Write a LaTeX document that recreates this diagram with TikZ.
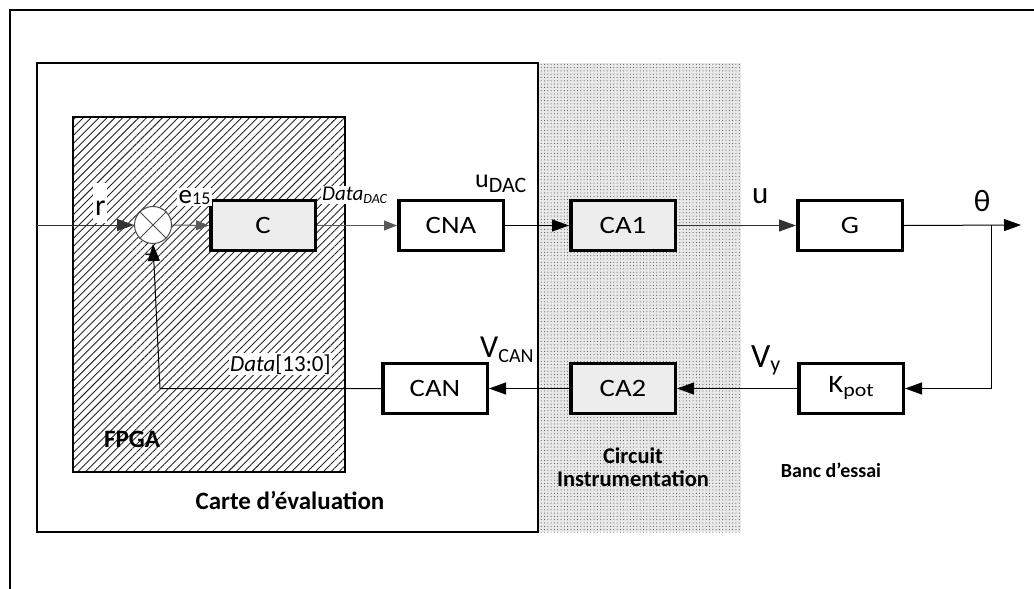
\documentclass[tikz,border=0pt]{standalone}
\usepackage{fontspec}
\setmainfont{Carlito}
\newfontfamily\boxfont{Carlito}[FakeStretch=1.15]
\usetikzlibrary{arrows.meta,patterns.meta}
\newcommand\fsz[1]{\fontsize{#1}{#1}\selectfont}
\newcommand\lowr[3]{\raisebox{-#1}{\fsz{#2}#3}}
\begin{document}
\begin{tikzpicture}[x=1pt,y=-1pt,
  blk/.style={draw=black,line width=3.5pt,minimum width=104.5pt,minimum height=50pt,inner sep=0pt,font=\boxfont\fsz{25}},
  gblk/.style={blk,fill=black!7},
  wblk/.style={blk,fill=white},
  sig/.style={line width=1pt,-{Triangle[length=17pt,width=12pt]}},
  sigg/.style={line width=1pt,draw=black!65,-{Triangle[length=13pt,width=10pt]}},
  lab/.style={inner sep=1pt,anchor=base west},
  frame/.style={draw=black,line width=2pt},
  ttl/.style={font=\bfseries,anchor=base,inner sep=0pt}]
\useasboundingbox (0,0) rectangle (1034,589);
\clip (0,0) rectangle (1034,589);
\fill[white] (0,0) rectangle (1034,589);
% frames
\draw[frame] (10,10) rectangle (1050,600);
\fill[black!9] (539,63) rectangle (741,532);
\fill[pattern={Dots[distance=3.3pt,radius=0.5pt]},pattern color=black!75] (539,63) rectangle (741,532);
\draw[frame] (37,63) rectangle (538,532);
\fill[white] (73,117) rectangle (345,472);
\fill[pattern={Lines[angle=45,distance=5.6pt,line width=0.9pt]},pattern color=black!85] (73,117) rectangle (345,472);
\draw[frame] (73,117) rectangle (345,472);
% region titles
\node[ttl,font=\bfseries\fsz{25}] (fpga) at (132,447) {FPGA};
\node[ttl,font=\bfseries\fsz{25}] (carte) at (290,509) {Carte d’évaluation};
\node[ttl,font=\bfseries\fsz{22.5}] (circ1) at (633,463) {Circuit};
\node[ttl,font=\bfseries\fsz{22.5}] (circ2) at (633,486) {Instrumentation};
\node[ttl,font=\bfseries\fsz{20}] (banc) at (831,477) {Banc d’essai};
% coordinates
\coordinate (in) at (37,225);
\coordinate (branch) at (991,225);
\coordinate (out) at (1021,225);
\coordinate (fbk) at (160,388.5);
% sum
\node[draw=black!70,fill=white,circle,line width=1pt,minimum size=37pt,inner sep=0pt] (sum) at (153,225) {};
\draw[black!70,line width=1pt] (sum.north west) -- (sum.south east) (sum.north east) -- (sum.south west);
% blocks
\node[gblk] (C) at (263,225.5) {C};
\node[wblk] (CNA) at (451,225.5) {CNA};
\node[gblk] (CA1) at (623,225.5) {CA1};
\node[wblk] (G) at (850,225.5) {G};
\node[wblk] (Kpot) at (851,388.5) {K\lowr{4pt}{19}{pot}};
\node[gblk] (CA2) at (623,388.5) {CA2};
\node[wblk] (CAN) at (435,388.5) {CAN};
% connectors
\draw[sig,draw=black!80] (in) -- (sum.west);
\draw[sigg] (sum.east) -- (C.west);
\draw[sigg] (C.east) -- (CNA.west);
\draw[sig] (CNA.east) -- (CA1.west);
\draw[sig,draw=black!80] (CA1.east) -- (G.west);
\draw[sig] (G.east) -- (out);
\draw[sig] (branch) |- (Kpot.east);
\draw[sig] (Kpot.west) -- (CA2.east);
\draw[sig] (CA2.west) -- (CAN.east);
\draw[sig] (CAN.west) -- (fbk) -- (sum.south);
% labels
\fill[white] (93,183) rectangle (107,223);
\node[lab,font=\fsz{30}] (r) at (94,215) {r};
\node[lab,fill=white,font=\fsz{27},inner sep=1.5pt] (e) at (177,203) {e\lowr{1pt}{18}{15}};
\node[lab,fill=white,font=\itshape\fsz{21}] (dd) at (321,200) {Data\lowr{3pt}{14}{DAC}};
\node[lab,font=\fsz{26}] (udac) at (474,187) {u\lowr{5pt}{22}{DAC}};
\node[lab,font=\fsz{31}] (u) at (751,203) {u};
\node[lab,font=\fsz{31},anchor=base] (th) at (982,211) {θ};
\node[lab,font=\fsz{34}] (vy) at (750,367) {V\lowr{4pt}{22}{y}};
\node[lab,font=\fsz{32}] (vcan) at (479,357) {V\lowr{5pt}{20}{CAN}};
\node[lab,fill=white,font=\fsz{23}] (d13) at (229,371) {\textit{Data}[13:0]};
\node[font=\fsz{20},inner sep=0pt] (minus) at (148,257) {-};
\end{tikzpicture}
\end{document}
